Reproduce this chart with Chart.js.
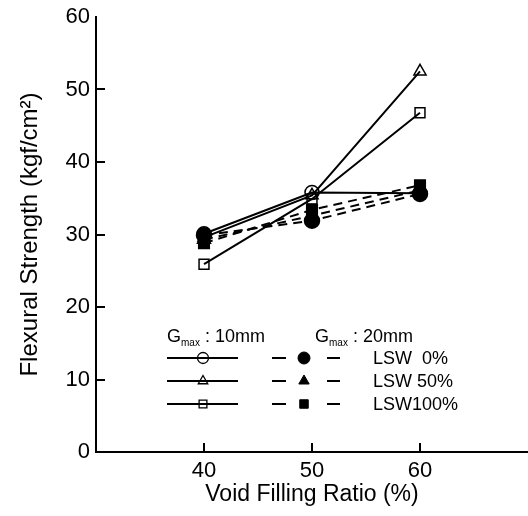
<!DOCTYPE html>
<html>
<head>
<meta charset="utf-8">
<script src="https://cdn.jsdelivr.net/npm/chart.js@4.4.1/dist/chart.umd.min.js"></script>
<style>
  html, body { margin: 0; padding: 0; background: #fff; }
  #wrap { width: 528px; height: 516px; }
</style>
</head>
<body>
<div id="wrap"><canvas id="flexural-chart"></canvas></div>
<script>
// Void filling ratio (%) on the x axis
var voidRatio = [40, 50, 60];

// Flexural strength (kgf/cm2), Gmax 10mm
var g10Lsw0 = [30.1, 35.8, 35.7];
var g10Lsw50 = [29.6, 35.4, 52.5];
var g10Lsw100 = [25.9, 34.9, 46.8];

// Flexural strength (kgf/cm2), Gmax 20mm
var g20Lsw0 = [29.9, 31.9, 35.6];
var g20Lsw50 = [29.3, 32.6, 36.1];
var g20Lsw100 = [28.8, 33.4, 36.8];

var xTicks = [40, 50, 60];
var yTicks = [0, 10, 20, 30, 40, 50, 60];

var FONT = "'Liberation Sans', Arial, sans-serif";

function points(values) {
    return values.map(function (v, i) {
        return { x: voidRatio[i], y: v };
    });
}

function series(label, values, style, filled) {
    return {
        label: label,
        data: points(values),
        borderColor: "#000",
        borderWidth: 2,
        borderDash: filled ? [9, 6] : [],
        pointStyle: style,
        pointRadius: filled ? 7.5 : 7,
        pointBorderWidth: 1.5,
        pointBorderColor: "#000",
        pointBackgroundColor: filled ? "#000" : "rgba(0,0,0,0)",
        fill: false,
        tension: 0,
    };
}

// Inward tick marks and the hand-made legend block
var decorations = {
    id: "decorations",
    afterDraw: function (chart) {
        var ctx = chart.ctx;
        var xs = chart.scales.x;
        var ys = chart.scales.y;
        ctx.save();
        ctx.strokeStyle = "#000";
        ctx.lineWidth = 2;
        yTicks.forEach(function (t) {
            if (t === 0 || t === 60) return;
            var py = Math.round(ys.getPixelForValue(t));
            ctx.beginPath();
            ctx.moveTo(ys.right, py);
            ctx.lineTo(ys.right + 9, py);
            ctx.stroke();
        });
        xTicks.forEach(function (t) {
            var px = Math.round(xs.getPixelForValue(t));
            ctx.beginPath();
            ctx.moveTo(px, xs.top);
            ctx.lineTo(px, xs.top - 9);
            ctx.stroke();
        });

        // legend headers
        ctx.fillStyle = "#000";
        ctx.textBaseline = "alphabetic";
        ctx.textAlign = "left";
        function header(x, text) {
            ctx.font = "18px " + FONT;
            ctx.fillText("G", x, 342);
            var w = ctx.measureText("G").width;
            ctx.font = "10px " + FONT;
            ctx.fillText("max", x + w, 346);
            var w2 = ctx.measureText("max").width;
            ctx.font = "18px " + FONT;
            ctx.fillText(" : " + text, x + w + w2, 342);
        }
        header(167, "10mm");
        header(315, "20mm");

        var rows = [
            { y: 358, style: "circle", label: "LSW  0%" },
            { y: 381, style: "triangle", label: "LSW 50%" },
            { y: 404, style: "rect", label: "LSW100%" },
        ];
        rows.forEach(function (r) {
            ctx.setLineDash([]);
            ctx.lineWidth = 2;
            ctx.beginPath();
            ctx.moveTo(167, r.y);
            ctx.lineTo(238, r.y);
            ctx.stroke();
            ctx.lineWidth = 1.3;
            ctx.fillStyle = "rgba(0,0,0,0)";
            Chart.helpers.drawPoint(ctx, { pointStyle: r.style, radius: 5.5, borderWidth: 1.3 }, 203, r.y);

            ctx.lineWidth = 2;
            ctx.beginPath();
            ctx.moveTo(272, r.y);
            ctx.lineTo(286, r.y);
            ctx.moveTo(327, r.y);
            ctx.lineTo(340, r.y);
            ctx.stroke();
            ctx.fillStyle = "#000";
            ctx.lineWidth = 1;
            Chart.helpers.drawPoint(ctx, { pointStyle: r.style, radius: 6, borderWidth: 1 }, 304, r.y);

            ctx.font = "18px " + FONT;
            ctx.textBaseline = "middle";
            ctx.fillText(r.label, 373, r.y + 1);
            ctx.textBaseline = "alphabetic";
        });
        ctx.restore();
    },
};

var chartData = {
    datasets: [
        series("Gmax 10mm LSW 0%", g10Lsw0, "circle", false),
        series("Gmax 10mm LSW 50%", g10Lsw50, "triangle", false),
        series("Gmax 10mm LSW100%", g10Lsw100, "rect", false),
        series("Gmax 20mm LSW 0%", g20Lsw0, "circle", true),
        series("Gmax 20mm LSW 50%", g20Lsw50, "triangle", true),
        series("Gmax 20mm LSW100%", g20Lsw100, "rect", true),
    ],
};

var chartOptions = {
    responsive: true,
    maintainAspectRatio: false,
    animation: false,
    layout: {
        autoPadding: false,
        padding: { top: 17, right: 0, left: 0, bottom: 0 },
    },
    plugins: {
        legend: { display: false },
        tooltip: { enabled: false },
    },
    scales: {
        x: {
            type: "linear",
            min: 30,
            max: 70,
            afterBuildTicks: function (scale) {
                scale.ticks = xTicks.map(function (v) { return { value: v }; });
            },
            afterFit: function (scale) {
                scale.height = 64;
                scale.paddingLeft = 0;
                scale.paddingRight = 0;
            },
            grid: { display: true, drawOnChartArea: false, drawTicks: false },
            border: { display: true, color: "#000", width: 2 },
            ticks: {
                color: "#000",
                padding: 6,
                font: { family: FONT, size: 22 },
                maxRotation: 0,
            },
            title: {
                display: true,
                text: "Void Filling Ratio (%)",
                color: "#000",
                font: { family: FONT, size: 23 },
                padding: { top: 0, bottom: 8 },
            },
        },
        y: {
            min: 0,
            max: 60,
            afterBuildTicks: function (scale) {
                scale.ticks = yTicks.map(function (v) { return { value: v }; });
            },
            afterFit: function (scale) {
                scale.width = 96;
                scale.paddingTop = 0;
                scale.paddingBottom = 0;
            },
            grid: { display: true, drawOnChartArea: false, drawTicks: false },
            border: { display: true, color: "#000", width: 2 },
            ticks: {
                color: "#000",
                padding: 6,
                font: { family: FONT, size: 22 },
            },
            title: {
                display: true,
                text: "Flexural Strength (kgf/cm\u00B2)",
                color: "#000",
                font: { family: FONT, size: 24 },
                padding: { top: 16, bottom: 0 },
            },
        },
    },
};

var ctx = document.getElementById("flexural-chart");
var flexuralChart = new Chart(ctx, {
    type: "line",
    data: chartData,
    options: chartOptions,
    plugins: [decorations],
});
</script>
</body>
</html>
